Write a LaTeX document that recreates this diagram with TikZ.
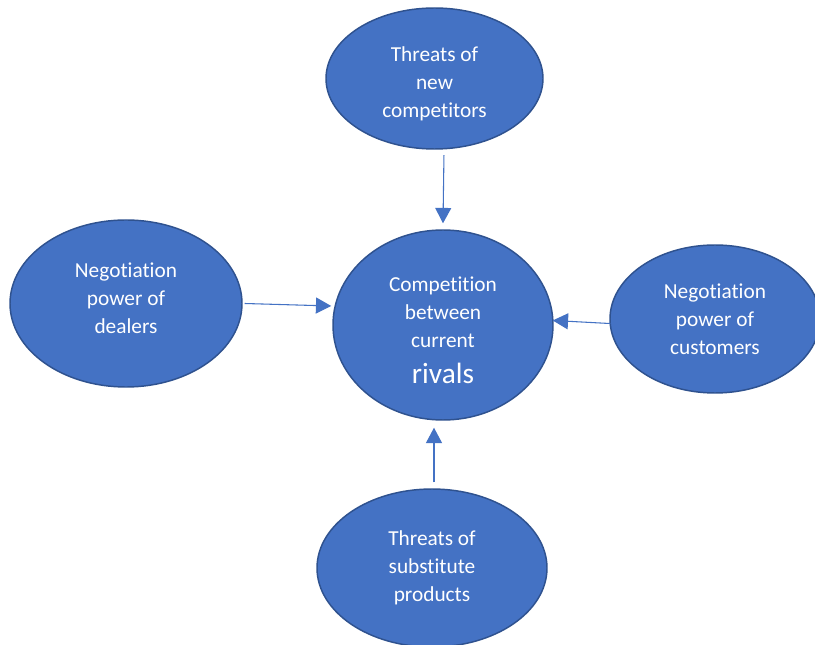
\documentclass[tikz,border=0pt]{standalone}
\usepackage{fontspec}
\setmainfont{Carlito}[Ligatures=NoCommon]
\usetikzlibrary{shapes.geometric,arrows.meta}

\definecolor{forcefill}{HTML}{4472C4}
\definecolor{forceline}{HTML}{2F528F}

\tikzset{
  force/.style={ellipse, fill=forcefill, draw=forceline, line width=1.1pt,
    text=white, align=center, inner sep=0pt, font=\fontsize{16}{21}\selectfont},
  link/.style={draw=forcefill, line width=0.8pt, -{Triangle[length=11.5pt,width=12pt]}}
}

\begin{document}
\begin{tikzpicture}[x=0.75pt,y=-0.75pt]
  \useasboundingbox (0,0) rectangle (815,645);
  \clip (0,0) rectangle (815,645);
  \fill[white] (0,0) rectangle (815,645);

  \node[force, minimum width=162.75pt, minimum height=105.75pt] (entrants) at (434.5,78.5)
    {\rule{0pt}{19pt}Threats of\\new\\competitors};
  \node[force, minimum width=174pt, minimum height=125.25pt] (dealers) at (126,303.5)
    {Negotiation\\power of\\dealers\rule[-8pt]{0pt}{0pt}};
  \node[force, minimum width=165pt, minimum height=142.5pt] (rivalry) at (443,325)
    {\rule{0pt}{19pt}Competition\\between\\current\\[6pt]{\fontsize{22}{26}\selectfont rivals}};
  \node[force, minimum width=157.5pt, minimum height=111pt] (customers) at (715,319)
    {Negotiation\\power of\\customers};
  \node[force, minimum width=172.5pt, minimum height=118.5pt] (substitutes) at (432,568)
    {Threats of\\substitute\\products};

  \draw[link] ([xshift=7.1pt,yshift=-4pt]entrants.south) -- ([yshift=4.5pt]rivalry.north);
  \draw[link] ([xshift=1.5pt]dealers.east) -- ([xshift=-0.75pt,yshift=14.25pt]rivalry.west);
  \draw[link] ([xshift=0.75pt,yshift=-3.4pt]customers.west) -- ([xshift=-0.75pt,yshift=3.4pt]rivalry.east);
  \draw[link] ([xshift=1.5pt,yshift=4.5pt]substitutes.north) -- ([xshift=-6.75pt,yshift=-5.25pt]rivalry.south);
\end{tikzpicture}
\end{document}
